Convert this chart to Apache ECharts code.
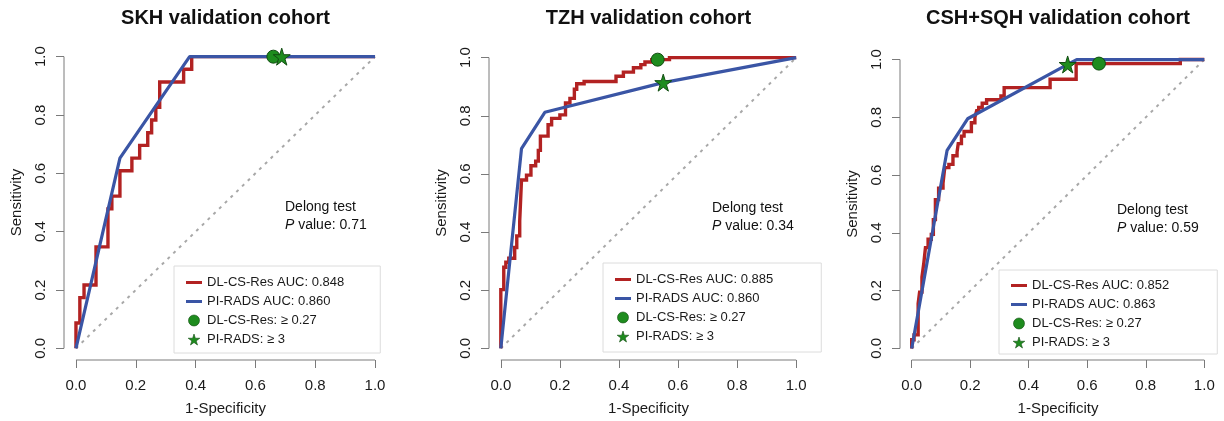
<!DOCTYPE html>
<html><head><meta charset="utf-8">
<script src="https://cdn.jsdelivr.net/npm/echarts@6/dist/echarts.min.js"></script>
<style>html,body{margin:0;padding:0;background:#fff}#c{width:1224px;height:421px}</style>
</head><body><div id="c"></div>
<script>
// ---------------- DATA ----------------
const tickValues = [0, 0.2, 0.4, 0.6, 0.8, 1.0];
const titles = ['SKH validation cohort', 'TZH validation cohort', 'CSH+SQH validation cohort'];
const pValues = ['0.71', '0.34', '0.59'];
const dlNames = ['DL-CS-Res AUC: 0.848', 'DL-CS-Res AUC: 0.885', 'DL-CS-Res AUC: 0.852'];
const piNames = ['PI-RADS AUC: 0.860', 'PI-RADS AUC: 0.860', 'PI-RADS AUC: 0.863'];
const cutNameDL = 'DL-CS-Res: \u2265 0.27';
const cutNamePI = 'PI-RADS: \u2265 3';
const diagX = [0, 1];
const diagY = [0, 1];

// SKH
const skhDlFpr = [0,0,0.013,0.013,0.027,0.027,0.067,0.067,0.107,0.107,0.12,0.12,0.147,0.147,0.187,0.187,0.213,0.213,0.24,0.24,0.253,0.253,0.267,0.267,0.28,0.28,0.36,0.36,0.387,0.387,1];
const skhDlTpr = [0,0.087,0.087,0.174,0.174,0.217,0.217,0.348,0.348,0.478,0.478,0.522,0.522,0.609,0.609,0.652,0.652,0.696,0.696,0.739,0.739,0.783,0.783,0.826,0.826,0.913,0.913,0.957,0.957,1,1];
const skhPiFpr = [0, 0.147, 0.38, 0.688, 1];
const skhPiTpr = [0, 0.652, 1, 1, 1];
const skhCutDL = [0.66, 1.0];
const skhCutPI = [0.688, 1.0];

// TZH
const tzhDlFpr = [0,0,0.010,0.010,0.017,0.017,0.027,0.027,0.047,0.047,0.054,0.054,0.064,0.064,0.07,0.07,0.087,0.087,0.102,0.102,0.118,0.118,0.127,0.127,0.134,0.134,0.16,0.16,0.172,0.172,0.2,0.2,0.219,0.219,0.234,0.234,0.249,0.249,0.257,0.257,0.282,0.282,0.39,0.39,0.415,0.415,0.449,0.449,0.474,0.474,0.488,0.488,0.511,0.511,0.571,0.571,1];
const tzhDlTpr = [0,0.202,0.202,0.279,0.279,0.296,0.296,0.31,0.31,0.347,0.347,0.387,0.387,0.438,0.438,0.579,0.579,0.596,0.596,0.628,0.628,0.644,0.644,0.681,0.681,0.73,0.73,0.769,0.769,0.791,0.791,0.803,0.803,0.844,0.844,0.86,0.86,0.891,0.891,0.91,0.91,0.918,0.918,0.936,0.936,0.95,0.95,0.965,0.965,0.976,0.976,0.985,0.985,0.993,0.993,1,1];
const tzhPiFpr = [0, 0.07, 0.149, 0.55, 1];
const tzhPiTpr = [0, 0.687, 0.812, 0.914, 1];
const tzhCutDL = [0.531, 0.993];
const tzhCutPI = [0.55, 0.914];

// CSH+SQH
const cshDlFpr = [0,0,0.008,0.008,0.022,0.022,0.027,0.027,0.035,0.035,0.041,0.041,0.047,0.047,0.056,0.056,0.067,0.067,0.074,0.074,0.081,0.081,0.092,0.092,0.107,0.107,0.113,0.113,0.127,0.127,0.141,0.141,0.155,0.155,0.159,0.159,0.17,0.17,0.179,0.179,0.204,0.204,0.216,0.216,0.222,0.222,0.229,0.229,0.241,0.241,0.256,0.256,0.305,0.305,0.316,0.316,0.473,0.473,0.562,0.562,0.918,0.918,1];
const cshDlTpr = [0,0.03,0.03,0.047,0.047,0.155,0.155,0.195,0.195,0.247,0.247,0.292,0.292,0.349,0.349,0.378,0.378,0.395,0.395,0.446,0.446,0.515,0.515,0.555,0.555,0.572,0.572,0.626,0.626,0.637,0.637,0.667,0.667,0.68,0.68,0.709,0.709,0.735,0.735,0.751,0.751,0.781,0.781,0.80,0.80,0.823,0.823,0.834,0.834,0.849,0.849,0.861,0.861,0.874,0.874,0.903,0.903,0.932,0.932,0.986,0.986,1,1];
const cshPiFpr = [0, 0.121, 0.191, 0.533, 0.564, 1];
const cshPiTpr = [0, 0.686, 0.795, 0.983, 1, 1];
const cshCutDL = [0.64, 0.986];
const cshCutPI = [0.533, 0.983];

// ---------------- LAYOUT / STYLE ----------------
const FONT = '"Liberation Sans", Arial, Helvetica, sans-serif';
const RED = '#B22222', BLUE = '#3A55A5', GREEN = '#1E8C1E', GREEN_EDGE = '#124d12';
const AXIS_COLOR = '#7a7a7a';
const STAR = 'path://M50,0 L61,35 L98,35 L68,57 L79,91 L50,70 L21,91 L32,57 L2,35 L39,35 Z';
const LINE_ICON = 'path://M0,0 L16,0 L16,3 L0,3 Z';

const panels = [
  { grid: {left: 64, top: 45, width: 323, height: 320},
    legend: {left: 174, top: 266, padding: [10, 36, 7, 12]},
    delong: {x: 285, y: 207},
    dl: [skhDlFpr, skhDlTpr], pi: [skhPiFpr, skhPiTpr], cutDL: skhCutDL, cutPI: skhCutPI },
  { grid: {left: 489, top: 46, width: 319, height: 318},
    legend: {left: 603, top: 263, padding: [10, 48, 9, 12]},
    delong: {x: 712, y: 208},
    dl: [tzhDlFpr, tzhDlTpr], pi: [tzhPiFpr, tzhPiTpr], cutDL: tzhCutDL, cutPI: tzhCutPI },
  { grid: {left: 900, top: 48, width: 316, height: 316},
    legend: {left: 999, top: 270, padding: [9, 48, 5, 12]},
    delong: {x: 1117, y: 210},
    dl: [cshDlFpr, cshDlTpr], pi: [cshPiFpr, cshPiTpr], cutDL: cshCutDL, cutPI: cshCutPI }
];

const zip = (xs, ys) => xs.map((x, i) => [x, ys[i]]);
const fmt = v => v.toFixed(1);

const grids = [], xAxes = [], yAxes = [], series = [], legends = [], graphics = [];
panels.forEach((p, i) => {
  grids.push(Object.assign({containLabel: false}, p.grid));
  xAxes.push({
    type: 'value', gridIndex: i, min: -0.04, max: 1.04,
    name: '1-Specificity', nameLocation: 'middle', nameGap: 41,
    nameTextStyle: {fontSize: 15, color: '#1a1a1a', fontFamily: FONT},
    axisLine: {show: false, onZero: false}, splitLine: {show: false},
    axisTick: {show: true, inside: false, length: 8, customValues: tickValues, lineStyle: {color: AXIS_COLOR}},
    axisLabel: {customValues: tickValues, formatter: fmt, fontSize: 15, color: '#1a1a1a', fontFamily: FONT, margin: 18}
  });
  yAxes.push({
    type: 'value', gridIndex: i, min: -0.04, max: 1.04,
    name: 'Sensitivity', nameLocation: 'middle', nameGap: 40,
    nameTextStyle: {fontSize: 15, color: '#1a1a1a', fontFamily: FONT},
    axisLine: {show: false, onZero: false}, splitLine: {show: false},
    axisTick: {show: true, inside: false, length: 8, customValues: tickValues, lineStyle: {color: AXIS_COLOR}},
    axisLabel: {customValues: tickValues, formatter: fmt, rotate: 90, fontSize: 15, color: '#1a1a1a', fontFamily: FONT, margin: 16}
  });
  // axis lines spanning 0..1 only (R style)
  series.push({type: 'line', xAxisIndex: i, yAxisIndex: i, silent: true, clip: false, symbol: 'none',
    data: [[-0.04, 0], [-0.04, 1]], lineStyle: {color: AXIS_COLOR, width: 1}, z: 1});
  series.push({type: 'line', xAxisIndex: i, yAxisIndex: i, silent: true, clip: false, symbol: 'none',
    data: [[0, -0.04], [1, -0.04]], lineStyle: {color: AXIS_COLOR, width: 1}, z: 1});
  // diagonal
  series.push({type: 'line', xAxisIndex: i, yAxisIndex: i, silent: true, symbol: 'none',
    data: zip(diagX, diagY), lineStyle: {color: '#a8a8a8', width: 2, type: [3, 5]}, z: 2});
  series.push({name: dlNames[i], type: 'line', xAxisIndex: i, yAxisIndex: i, symbol: 'none',
    data: zip(p.dl[0], p.dl[1]), color: RED, itemStyle: {color: RED},
    lineStyle: {color: RED, width: 3.4, join: 'miter'}, z: 3});
  series.push({name: piNames[i], type: 'line', xAxisIndex: i, yAxisIndex: i, symbol: 'none',
    data: zip(p.pi[0], p.pi[1]), color: BLUE, itemStyle: {color: BLUE},
    lineStyle: {color: BLUE, width: 3.2}, z: 4});
  series.push({name: cutNameDL, type: 'scatter', xAxisIndex: i, yAxisIndex: i, symbol: 'circle', symbolSize: 13,
    data: [p.cutDL], itemStyle: {color: GREEN, borderColor: GREEN_EDGE, borderWidth: 1, opacity: 1}, z: 6});
  series.push({name: cutNamePI, type: 'scatter', xAxisIndex: i, yAxisIndex: i, symbol: STAR, symbolSize: 17,
    data: [p.cutPI], itemStyle: {color: GREEN, borderColor: GREEN_EDGE, borderWidth: 1, opacity: 1}, z: 6});

  legends.push(Object.assign({
    orient: 'vertical', selectedMode: false,
    borderColor: '#dcdcdc', borderWidth: 1, borderRadius: 0,
    itemWidth: 16, itemHeight: 11, itemGap: 6,
    itemStyle: {borderWidth: 0.6},
    textStyle: {fontSize: 13, color: '#1a1a1a', fontFamily: FONT},
    data: [
      {name: dlNames[i], icon: LINE_ICON},
      {name: piNames[i], icon: LINE_ICON},
      {name: cutNameDL, icon: 'circle'},
      {name: cutNamePI, icon: STAR}
    ]
  }, p.legend));

  const cx = p.grid.left + p.grid.width / 2;
  graphics.push({type: 'text', x: cx, y: 18, style: {text: titles[i], font: 'bold 20px ' + FONT, fill: '#111', align: 'center', verticalAlign: 'middle'}});
  graphics.push({type: 'text', x: p.delong.x, y: p.delong.y, style: {text: 'Delong test', font: '14px ' + FONT, fill: '#111', align: 'left', verticalAlign: 'middle'}});
  graphics.push({type: 'text', x: p.delong.x, y: p.delong.y + 18, style: {
    text: '{i|P} value: ' + pValues[i], font: '14px ' + FONT, fill: '#111', align: 'left', verticalAlign: 'middle',
    rich: {i: {fontStyle: 'italic', fontSize: 14, fontFamily: FONT, fill: '#111'}}}});
});

const chart = echarts.init(document.getElementById('c'), null, {renderer: 'canvas'});
chart.setOption({
  animation: false,
  backgroundColor: '#ffffff',
  grid: grids, xAxis: xAxes, yAxis: yAxes,
  legend: legends, series: series, graphic: graphics
});
</script></body></html>
